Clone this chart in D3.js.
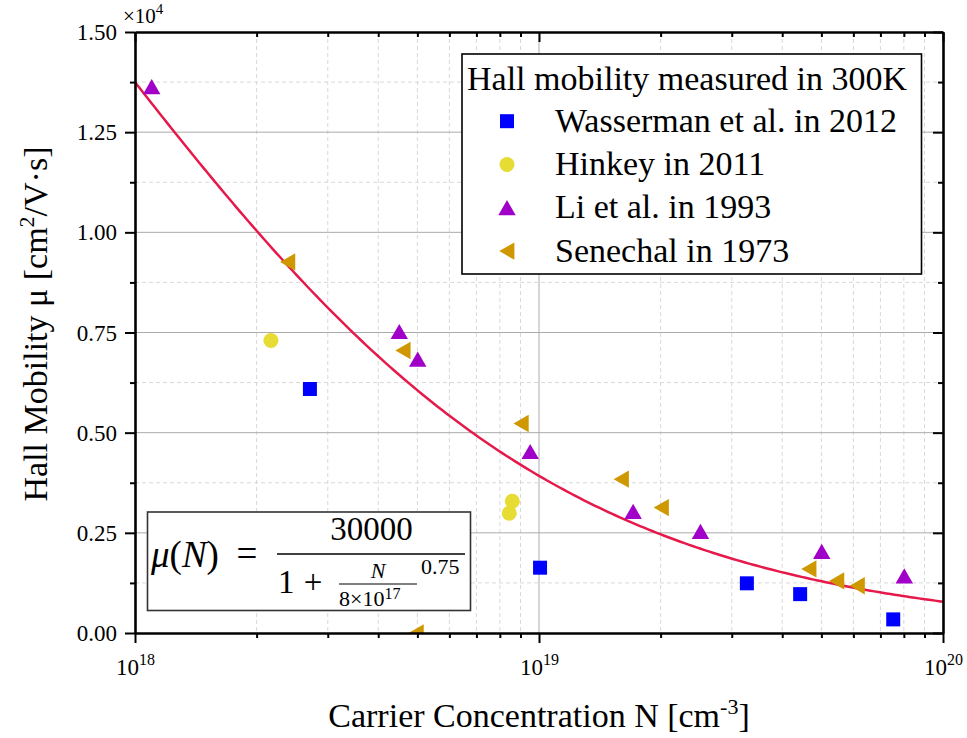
<!DOCTYPE html>
<html>
<head>
<meta charset="utf-8">
<script src="https://cdn.jsdelivr.net/npm/d3@7"></script>
<style>
  html, body { margin: 0; padding: 0; background: #fff; }
  svg, svg text { font-family: "Liberation Serif", "Times New Roman", "DejaVu Serif", serif !important; }
</style>
</head>
<body>
<svg id="chart" width="967" height="738"></svg>
<script>
// ---------- data ----------
const wassermanN  = [2.71e18, 1.006e19, 3.27e19, 4.43e19, 7.53e19];
const wassermanMu = [6090, 1630, 1240, 970, 340];

const hinkeyN  = [2.17e18, 8.59e18, 8.44e18];
const hinkeyMu = [7300, 3290, 2990];

const liN  = [1.10e18, 4.51e18, 5.01e18, 9.51e18, 1.71e19, 2.51e19, 5.01e19, 8.02e19];
const liMu = [13630, 7520, 6830, 4525, 3030, 2530, 2030, 1420];

const senechalN  = [2.39e18, 4.61e18, 4.97e18, 9.04e18, 1.60e19, 2.01e19, 4.66e19, 5.46e19, 6.14e19];
const senechalMu = [9260, 7050, 0, 5230, 3840, 3130, 1600, 1300, 1180];

const seriesNames = ["Wasserman et al. in 2012", "Hinkey in 2011", "Li et al. in 1993", "Senechal in 1973"];
const legendTitle = "Hall mobility measured in 300K";

// model: mu(N) = muMax / (1 + (N/Nref)^alpha)
const muMax = 30000, Nref = 8e17, alpha = 0.75;

const yTickValues = [0, 2500, 5000, 7500, 10000, 12500, 15000];
const yMinorValues = [1250, 3750, 6250, 8750, 11250, 13750];
const xMajorValues = [1e18, 1e19, 1e20];
const xMajorExp = ["18", "19", "20"];
const xMinorValues = [2e18,3e18,4e18,5e18,6e18,7e18,8e18,9e18,2e19,3e19,4e19,5e19,6e19,7e19,8e19,9e19];

// ---------- layout ----------
const FONT = '"Liberation Serif", "Times New Roman", serif';
const L = 135, R = 943, T = 32, B = 633;
const svg = d3.select("#chart");
const x = d3.scaleLog().domain([1e18, 1e20]).range([L, R]);
const y = d3.scaleLinear().domain([0, 15000]).range([B, T]);

const colors = { wasserman: "#0000ff", hinkey: "#e6dc34", li: "#a000c8", senechal: "#cf9800" };

// ---------- grid ----------
const grid = svg.append("g");
grid.selectAll(".ymin").data(yMinorValues).join("line")
  .attr("x1", L).attr("x2", R).attr("y1", d => y(d)).attr("y2", d => y(d))
  .attr("stroke", "#d8d8d8").attr("stroke-width", 1).attr("stroke-dasharray", "4,3");
grid.selectAll(".xmin").data(xMinorValues).join("line")
  .attr("y1", T).attr("y2", B).attr("x1", d => x(d)).attr("x2", d => x(d))
  .attr("stroke", "#d8d8d8").attr("stroke-width", 1).attr("stroke-dasharray", "4,3");
grid.selectAll(".ymaj").data(yTickValues.slice(1, -1)).join("line")
  .attr("x1", L).attr("x2", R).attr("y1", d => y(d)).attr("y2", d => y(d))
  .attr("stroke", "#ababab").attr("stroke-width", 1);
grid.selectAll(".xmaj").data([1e19]).join("line")
  .attr("y1", T).attr("y2", B).attr("x1", d => x(d)).attr("x2", d => x(d))
  .attr("stroke", "#ababab").attr("stroke-width", 1);

// ---------- clip ----------
svg.append("clipPath").attr("id", "plotClip").append("rect")
  .attr("x", L).attr("y", T).attr("width", R - L).attr("height", B - T);
const plot = svg.append("g").attr("clip-path", "url(#plotClip)");

// ---------- curve ----------
const curveN = d3.range(0, 201).map(i => Math.pow(10, 18 + i / 100));
const line = d3.line().x(d => x(d)).y(d => y(muMax / (1 + Math.pow(d / Nref, alpha))));
plot.append("path").datum(curveN).attr("d", line)
  .attr("fill", "none").attr("stroke", "#e5194a").attr("stroke-width", 2.5);

// ---------- symbols ----------
const symPaths = {
  square: "M-7,-7H7V7H-7Z",
  circle: "M7.5,0A7.5,7.5 0 1,1 -7.5,0A7.5,7.5 0 1,1 7.5,0Z",
  up: "M0,-7.8L8.7,7.4L-8.7,7.4Z",
  left: "M-7.8,0L7.4,-8.7L7.4,8.7Z"
};
function drawSeries(Ns, Mus, shape, color) {
  plot.append("g").selectAll("path").data(Ns.map((n, i) => [n, Mus[i]])).join("path")
    .attr("transform", d => `translate(${x(d[0])},${y(d[1])})`)
    .attr("d", symPaths[shape]).attr("fill", color);
}
drawSeries(wassermanN, wassermanMu, "square", colors.wasserman);
drawSeries(hinkeyN, hinkeyMu, "circle", colors.hinkey);
drawSeries(liN, liMu, "up", colors.li);
drawSeries(senechalN, senechalMu, "left", colors.senechal);

// ---------- axes ----------
function styleAxis(g) {
  g.attr("font-family", null).attr("font-size", null);
  g.select(".domain").attr("stroke", "#000").attr("stroke-width", 2.6);
  g.selectAll(".tick line").attr("stroke", "#000").attr("stroke-width", 2);
}
// left major
const leftAxis = svg.append("g").attr("transform", `translate(${L},0)`)
  .call(d3.axisLeft(y).tickValues(yTickValues).tickSize(10).tickSizeOuter(0).tickPadding(8)
    .tickFormat(d => (d / 1e4).toFixed(2)));
styleAxis(leftAxis);
leftAxis.selectAll("text").attr("font-size", 23).attr("fill", "#000")
  .style("font-family", FONT).attr("dy", "0.33em");
const leftMinor = svg.append("g").attr("transform", `translate(${L},0)`)
  .call(d3.axisLeft(y).tickValues(yMinorValues).tickSize(5).tickSizeOuter(0).tickFormat(""));
styleAxis(leftMinor); leftMinor.select(".domain").remove();

// right (inward)
const rightAxis = svg.append("g").attr("transform", `translate(${R},0)`)
  .call(d3.axisLeft(y).tickValues(yTickValues).tickSize(0).tickSizeOuter(0).tickFormat(""));
styleAxis(rightAxis);
rightAxis.selectAll(".tick line").attr("x2", -10);
const rightMinor = svg.append("g").attr("transform", `translate(${R},0)`)
  .call(d3.axisLeft(y).tickValues(yMinorValues).tickSize(0).tickSizeOuter(0).tickFormat(""));
styleAxis(rightMinor); rightMinor.select(".domain").remove();
rightMinor.selectAll(".tick line").attr("x2", -5);

// bottom
const bottomAxis = svg.append("g").attr("transform", `translate(0,${B})`)
  .call(d3.axisBottom(x).tickValues(xMajorValues).tickSize(10).tickSizeOuter(0).tickFormat(""));
styleAxis(bottomAxis);
bottomAxis.selectAll(".tick").each(function(d, i) {
  const t = d3.select(this).append("text").attr("y", 42).attr("text-anchor", "middle")
    .attr("font-size", 23).attr("fill", "#000").style("font-family", FONT);
  t.append("tspan").text("10");
  t.append("tspan").attr("dy", -10).attr("font-size", 16).text(xMajorExp[i]);
});
const bottomMinor = svg.append("g").attr("transform", `translate(0,${B})`)
  .call(d3.axisBottom(x).tickValues(xMinorValues).tickSize(5).tickSizeOuter(0).tickFormat(""));
styleAxis(bottomMinor); bottomMinor.select(".domain").remove();

// top (inward)
const topAxis = svg.append("g").attr("transform", `translate(0,${T})`)
  .call(d3.axisTop(x).tickValues(xMajorValues).tickSize(0).tickSizeOuter(0).tickFormat(""));
styleAxis(topAxis);
topAxis.selectAll(".tick line").attr("y2", 10);
const topMinor = svg.append("g").attr("transform", `translate(0,${T})`)
  .call(d3.axisTop(x).tickValues(xMinorValues).tickSize(0).tickSizeOuter(0).tickFormat(""));
styleAxis(topMinor); topMinor.select(".domain").remove();
topMinor.selectAll(".tick line").attr("y2", 5);

// multiplier label
const mult = svg.append("text").attr("x", 123).attr("y", 23).attr("font-size", 21).attr("fill", "#000");
mult.append("tspan").text("×10");
mult.append("tspan").attr("dy", -9).attr("font-size", 15).text("4");

// ---------- axis titles ----------
const xt = svg.append("text").attr("x", (L + R) / 2).attr("y", 727).attr("text-anchor", "middle")
  .attr("font-size", 34).attr("fill", "#000");
xt.append("tspan").text("Carrier Concentration N [cm");
xt.append("tspan").attr("dy", -13).attr("font-size", 22).text("-3");
xt.append("tspan").attr("dy", 13).text("]");

const yt = svg.append("text").attr("transform", "translate(47,324) rotate(-90)")
  .attr("text-anchor", "middle").attr("font-size", 34).attr("fill", "#000");
yt.append("tspan").text("Hall Mobility μ [cm");
yt.append("tspan").attr("dy", -13).attr("font-size", 22).text("2");
yt.append("tspan").attr("dy", 13).text("/V·s]");

// ---------- legend ----------
const lg = svg.append("g");
lg.append("rect").attr("x", 462).attr("y", 54).attr("width", 459.5).attr("height", 220)
  .attr("fill", "#fff").attr("stroke", "#000").attr("stroke-width", 1.6);
lg.append("text").attr("x", 467).attr("y", 90).attr("font-size", 34).attr("fill", "#000").text(legendTitle);
const legShapes = ["square", "circle", "up", "left"];
const legColors = [colors.wasserman, colors.hinkey, colors.li, colors.senechal];
seriesNames.forEach((name, i) => {
  const base = 131.7 + i * 43.3;
  lg.append("path").attr("transform", `translate(507,${base - 10.5})`)
    .attr("d", symPaths[legShapes[i]]).attr("fill", legColors[i]);
  lg.append("text").attr("x", 555).attr("y", base).attr("font-size", 34).attr("fill", "#000").text(name);
});

// ---------- formula box ----------
const fb = svg.append("g").attr("fill", "#000");
fb.append("rect").attr("x", 147.5).attr("y", 512).attr("width", 323).attr("height", 98.5)
  .attr("fill", "#fff").attr("stroke", "#333").attr("stroke-width", 1.6);
const f1 = fb.append("text").attr("x", 151).attr("y", 567).attr("font-size", 37);
f1.append("tspan").attr("font-style", "italic").text("μ");
f1.append("tspan").text("(");
f1.append("tspan").attr("font-style", "italic").text("N");
f1.append("tspan").text(")");
fb.append("text").attr("x", 247).attr("y", 566).attr("text-anchor", "middle").attr("font-size", 37).text("=");
fb.append("line").attr("x1", 277).attr("x2", 465).attr("y1", 554).attr("y2", 554)
  .attr("stroke", "#000").attr("stroke-width", 1.3);
fb.append("text").attr("x", 371.5).attr("y", 540).attr("text-anchor", "middle").attr("font-size", 33).text("30000");
fb.append("text").attr("x", 278).attr("y", 593).attr("font-size", 33).text("1");
fb.append("text").attr("x", 313).attr("y", 593).attr("text-anchor", "middle").attr("font-size", 33).text("+");
fb.append("text").attr("x", 378).attr("y", 578).attr("text-anchor", "middle").attr("font-size", 22)
  .attr("font-style", "italic").text("N");
fb.append("line").attr("x1", 339).attr("x2", 417).attr("y1", 584).attr("y2", 584)
  .attr("stroke", "#000").attr("stroke-width", 1);
const f2 = fb.append("text").attr("x", 339).attr("y", 606).attr("font-size", 22);
f2.append("tspan").text("8×10");
f2.append("tspan").attr("dy", -7).attr("font-size", 16).text("17");
fb.append("text").attr("x", 421).attr("y", 574).attr("font-size", 22).text("0.75");
</script>
</body>
</html>
